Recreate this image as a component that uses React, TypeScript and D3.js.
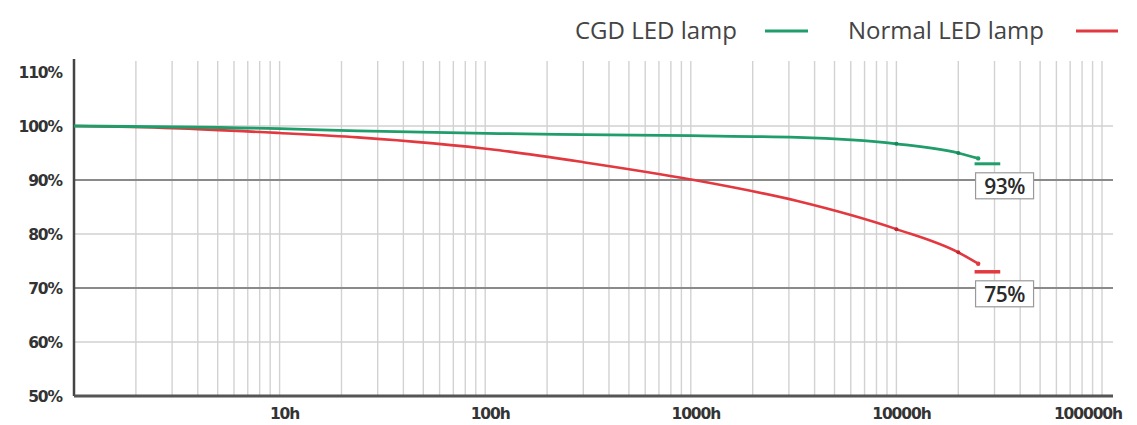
import React from 'react';
import * as d3 from 'd3';

// lumen maintenance vs burning hours
const cgdHours = [1, 10, 24, 117, 300, 1000, 3300, 10000, 20000, 25000];
const cgdValues = [100, 99.5, 99.1, 98.6, 98.4, 98.2, 97.9, 96.7, 95.0, 94.0];
const normalHours = [1, 3, 10, 24, 117, 300, 1000, 3300, 10000, 20000, 25000];
const normalValues = [100, 99.6, 98.7, 97.9, 95.5, 93.3, 90.1, 86.1, 80.9, 76.6, 74.5];

const markerHours = [10000, 20000];
const endMarkerSpan = [24000, 32000];
const cgdEnd = 93;
const normalEnd = 73;
const cgdEndLabel = '93%';
const normalEndLabel = '75%';

const yTicks = [50, 60, 70, 80, 90, 100, 110];
const strongY = [90, 70];
const xTicks = [10, 100, 1000, 10000, 100000];

const seriesNames = ['CGD LED lamp', 'Normal LED lamp'];
const GREEN = '#1f9d6a';
const RED = '#e2383f';

const W = 1137;
const H = 425;
const left = 74;
const axisRight = 1113;
const top = 61;
const bottom = 396;

export default function App() {
  const x = d3.scaleLog().domain([1, 100000]).range([left, 1102]);
  const y = d3.scaleLinear().domain([50, 110]).range([bottom, 72]);

  const line = d3
    .line<[number, number]>()
    .x((d) => x(d[0]))
    .y((d) => y(d[1]))
    .curve(d3.curveMonotoneX);

  const cgd = cgdHours.map((h, i) => [h, cgdValues[i]] as [number, number]);
  const normal = normalHours.map((h, i) => [h, normalValues[i]] as [number, number]);

  const minor = x.ticks().filter((t) => t > 1);

  const valueAt = (hs: number[], vs: number[], h: number) => vs[hs.indexOf(h)];

  const labelBox = (txt: string, v: number, key: string) => {
    const bx = x(endMarkerSpan[0]) + 1;
    const by = y(v) + 9;
    return (
      <g key={key}>
        <rect x={bx} y={by} width={58} height={26} fill="#fff" stroke="#999" strokeWidth={1.2} />
        <text
          x={bx + 29}
          y={by + 21}
          textAnchor="middle"
          fontFamily="'Open Sans', sans-serif"
          fontWeight={600}
          fontSize={21}
          letterSpacing={-0.5}
          fill="#2a2a2a"
        >
          {txt}
        </text>
      </g>
    );
  };

  const tickFont = {
    fontFamily: "'DejaVu Sans', sans-serif",
    fontWeight: 'bold' as const,
    fontSize: 15.5,
    letterSpacing: -1.1,
    fill: '#333',
  };

  return (
    <svg width={W} height={H} style={{ position: 'absolute', left: 0, top: 0, background: '#fff' }}>
      {/* vertical log grid */}
      {minor.map((t) => (
        <line key={'v' + t} x1={x(t)} x2={x(t)} y1={top} y2={bottom} stroke="#d2d2d2" strokeWidth={1.4} />
      ))}
      {/* horizontal grid */}
      {yTicks
        .filter((t) => t > 50 && t < 110)
        .map((t) => (
          <line
            key={'h' + t}
            x1={left}
            x2={axisRight}
            y1={y(t)}
            y2={y(t)}
            stroke={strongY.includes(t) ? '#8a8a8a' : '#d0d0d0'}
            strokeWidth={strongY.includes(t) ? 2.2 : 1.4}
          />
        ))}
      {/* axes */}
      <line x1={left} x2={left} y1={top - 2} y2={bottom} stroke="#444" strokeWidth={2.5} />
      <line x1={left} x2={axisRight} y1={bottom} y2={bottom} stroke="#555" strokeWidth={3} />

      {yTicks.map((t) => (
        <text key={'yl' + t} x={62} y={y(t) + 6} textAnchor="end" {...tickFont}>
          {t}%
        </text>
      ))}
      {xTicks.map((t, i) => (
        <text
          key={'xl' + t}
          x={i === xTicks.length - 1 ? 1122 : x(t) + 5}
          y={419}
          textAnchor={i === xTicks.length - 1 ? 'end' : 'middle'}
          {...tickFont}
        >
          {t}h
        </text>
      ))}

      {/* curves */}
      <path d={line(normal) || ''} fill="none" stroke={RED} strokeWidth={2.6} />
      <path d={line(cgd) || ''} fill="none" stroke={GREEN} strokeWidth={2.8} />
      {markerHours.map((h) => (
        <g key={'m' + h}>
          <circle cx={x(h)} cy={y(valueAt(cgdHours, cgdValues, h))} r={2} fill="#17875a" />
          <circle cx={x(h)} cy={y(valueAt(normalHours, normalValues, h))} r={2} fill="#c0262c" />
        </g>
      ))}
      <circle cx={x(cgd[cgd.length - 1][0])} cy={y(cgd[cgd.length - 1][1])} r={2.2} fill={GREEN} />
      <circle cx={x(normal[normal.length - 1][0])} cy={y(normal[normal.length - 1][1])} r={2.2} fill={RED} />

      {/* end-of-life markers */}
      <line x1={x(endMarkerSpan[0])} x2={x(endMarkerSpan[1])} y1={y(cgdEnd)} y2={y(cgdEnd)} stroke={GREEN} strokeWidth={3} />
      <line x1={x(endMarkerSpan[0])} x2={x(endMarkerSpan[1])} y1={y(normalEnd)} y2={y(normalEnd)} stroke={RED} strokeWidth={3.5} />
      {labelBox(cgdEndLabel, cgdEnd, 'lb1')}
      {labelBox(normalEndLabel, normalEnd, 'lb2')}

      {/* legend */}
      <text x={575} y={39} fontFamily="'Open Sans', sans-serif" fontSize={24} fill="#444">
        {seriesNames[0]}
      </text>
      <line x1={765} x2={808} y1={31} y2={31} stroke={GREEN} strokeWidth={3} />
      <text x={848} y={39} fontFamily="'Open Sans', sans-serif" fontSize={24} fill="#444">
        {seriesNames[1]}
      </text>
      <line x1={1076} x2={1118} y1={31} y2={31} stroke={RED} strokeWidth={3} />
    </svg>
  );
}
